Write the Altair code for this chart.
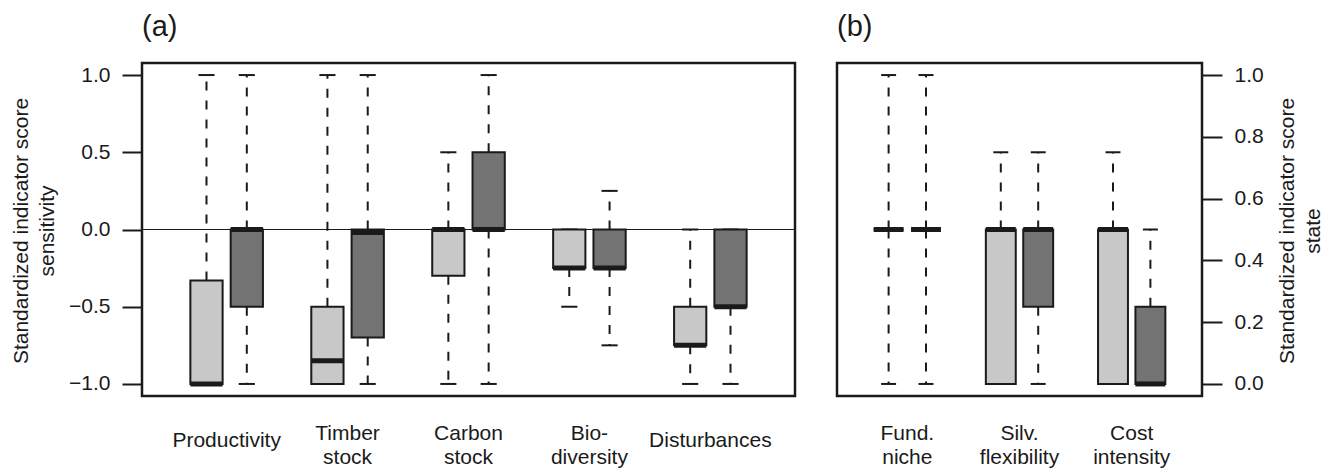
import altair as alt
import pandas as pd

FONT = "Liberation Sans"
INK = "#1a1a1a"
LIGHT = "#c8c8c8"
DARK = "#737373"

# ---------------- Panel (a): sensitivity ----------------
a_labels = ["Productivity", "Timber\nstock", "Carbon\nstock", "Bio-\ndiversity", "Disturbances"]
a_light_low = [-1.0, -1.0, -1.0, -0.5, -1.0]
a_light_q1 = [-1.0, -1.0, -0.3, -0.25, -0.75]
a_light_med = [-1.0, -0.85, 0.0, -0.25, -0.75]
a_light_q3 = [-0.33, -0.5, 0.0, 0.0, -0.5]
a_light_high = [1.0, 1.0, 0.5, 0.0, 0.0]

a_dark_low = [-1.0, -1.0, -1.0, -0.75, -1.0]
a_dark_q1 = [-0.5, -0.7, 0.0, -0.25, -0.5]
a_dark_med = [0.0, -0.02, 0.0, -0.25, -0.5]
a_dark_q3 = [0.0, 0.0, 0.5, 0.0, 0.0]
a_dark_high = [1.0, 1.0, 1.0, 0.25, 0.0]

a_ticks = [-1.0, -0.5, 0.0, 0.5, 1.0]

# ---------------- Panel (b): state ----------------
b_labels = ["Fund.\nniche", "Silv.\nflexibility", "Cost\nintensity"]
b_light_low = [0.0, 0.0, 0.0]
b_light_q1 = [0.5, 0.0, 0.0]
b_light_med = [0.5, 0.5, 0.5]
b_light_q3 = [0.5, 0.5, 0.5]
b_light_high = [1.0, 0.75, 0.75]

b_dark_low = [0.0, 0.0, 0.0]
b_dark_q1 = [0.5, 0.25, 0.0]
b_dark_med = [0.5, 0.5, 0.0]
b_dark_q3 = [0.5, 0.5, 0.25]
b_dark_high = [1.0, 0.75, 0.5]

b_ticks = [0.0, 0.2, 0.4, 0.6, 0.8, 1.0]

series_names = ["light", "dark"]
series_colors = [LIGHT, DARK]


def box_table(labels, light, dark):
    rows = []
    for i, lab in enumerate(labels):
        for j, (name, st) in enumerate([("light", light), ("dark", dark)]):
            rows.append(dict(category=lab, series=name, pos=3 * i + 1 + j,
                             low=st[0][i], q1=st[1][i], med=st[2][i],
                             q3=st[3][i], high=st[4][i]))
    return pd.DataFrame(rows)


def label_table(labels):
    return pd.DataFrame({
        "label": labels,
        "pos": [3 * i + 1.5 for i in range(len(labels))],
        "nlines": [lab.count("\n") + 1 for lab in labels],
    })


def panel(df, lab_df, xdom, ydom, width, height, yaxis, title, zero_line):
    xs = alt.Scale(domain=xdom, nice=False, zero=False)
    ys = alt.Scale(domain=ydom, nice=False, zero=False)

    def X(f):
        return alt.X(f, scale=xs, axis=None)

    def Y(f):
        return alt.Y(f, scale=ys, axis=yaxis)

    base = alt.Chart(df).transform_calculate(
        xl="datum.pos - 0.4", xr="datum.pos + 0.4",
        cl="datum.pos - 0.2", cr="datum.pos + 0.2",
    )
    layers = []
    if zero_line:
        layers.append(
            alt.Chart(pd.DataFrame({"zero": [0.0]}))
            .mark_rule(color=INK, strokeWidth=1.2)
            .encode(y=Y("zero:Q"))
        )
    whisk = dict(color=INK, strokeWidth=2, strokeDash=[9, 10])
    layers.append(base.mark_rule(**whisk).encode(x=X("pos:Q"), y=Y("q3:Q"), y2="high:Q"))
    layers.append(base.mark_rule(**whisk).encode(x=X("pos:Q"), y=Y("q1:Q"), y2="low:Q"))
    layers.append(base.mark_rule(color=INK, strokeWidth=2).encode(x=X("cl:Q"), x2="cr:Q", y=Y("high:Q")))
    layers.append(base.mark_rule(color=INK, strokeWidth=2).encode(x=X("cl:Q"), x2="cr:Q", y=Y("low:Q")))
    layers.append(
        base.mark_rect(stroke=INK, strokeWidth=2).encode(
            x=X("xl:Q"), x2="xr:Q", y=Y("q1:Q"), y2="q3:Q",
            fill=alt.Fill("series:N", scale=alt.Scale(domain=series_names, range=series_colors), legend=None),
        )
    )
    layers.append(base.mark_rule(color=INK, strokeWidth=5).encode(x=X("xl:Q"), x2="xr:Q", y=Y("med:Q")))

    txt = dict(font=FONT, fontSize=21, color=INK, align="center", baseline="alphabetic",
               lineBreak="\n", lineHeight=24)
    labs = alt.Chart(lab_df)
    layers.append(labs.transform_filter("datum.nlines == 1").mark_text(**txt).encode(
        x=X("pos:Q"), y=alt.value(height + 50.7), text="label:N"))
    layers.append(labs.transform_filter("datum.nlines > 1").mark_text(**txt).encode(
        x=X("pos:Q"), y=alt.value(height + 44), text="label:N"))

    return alt.layer(*layers).properties(width=width, height=height, title=title)


H = 333
axis_common = dict(format=".1f", tickSize=20, tickWidth=2, tickColor=INK, domain=False, grid=False,
                   labelFont=FONT, labelFontSize=21, labelColor=INK, labelPadding=12,
                   titleFont=FONT, titleFontSize=21, titleFontWeight="normal", titleColor=INK,
                   titleAngle=-90, titleBaseline="top", titleAlign="center", titleLineHeight=26,
                   titleY=H / 2 + 1)

axis_a = alt.Axis(values=a_ticks, orient="left",
                  title=["Standardized indicator score", "sensitivity"],
                  titleX=-132, **axis_common)
axis_b = alt.Axis(values=b_ticks, orient="right",
                  title=["Standardized indicator score", "state"],
                  titleX=74, **axis_common)

title_style = dict(anchor="start", frame="group", fontSize=29, fontWeight="normal",
                   font=FONT, color=INK, offset=21)

chart_a = panel(box_table(a_labels,
                          (a_light_low, a_light_q1, a_light_med, a_light_q3, a_light_high),
                          (a_dark_low, a_dark_q1, a_dark_med, a_dark_q3, a_dark_high)),
                label_table(a_labels), [-0.6, 15.6], [-1.078, 1.078], 653, H, axis_a,
                alt.TitleParams("(a)", **title_style), True)

chart_b = panel(box_table(b_labels,
                          (b_light_low, b_light_q1, b_light_med, b_light_q3, b_light_high),
                          (b_dark_low, b_dark_q1, b_dark_med, b_dark_q3, b_dark_high)),
                label_table(b_labels), [-0.38, 9.38], [-0.039, 1.039], 365, H, axis_b,
                alt.TitleParams("(b)", **title_style), False)

chart = (
    alt.hconcat(chart_a, chart_b, spacing=38)
    .properties(padding={"left": 8, "top": 11, "right": 0, "bottom": 0}, background="white")
    .configure_view(stroke=INK, strokeWidth=2.5)
)

chart.save("out.html", embed_options={"renderer": "svg", "actions": False})
